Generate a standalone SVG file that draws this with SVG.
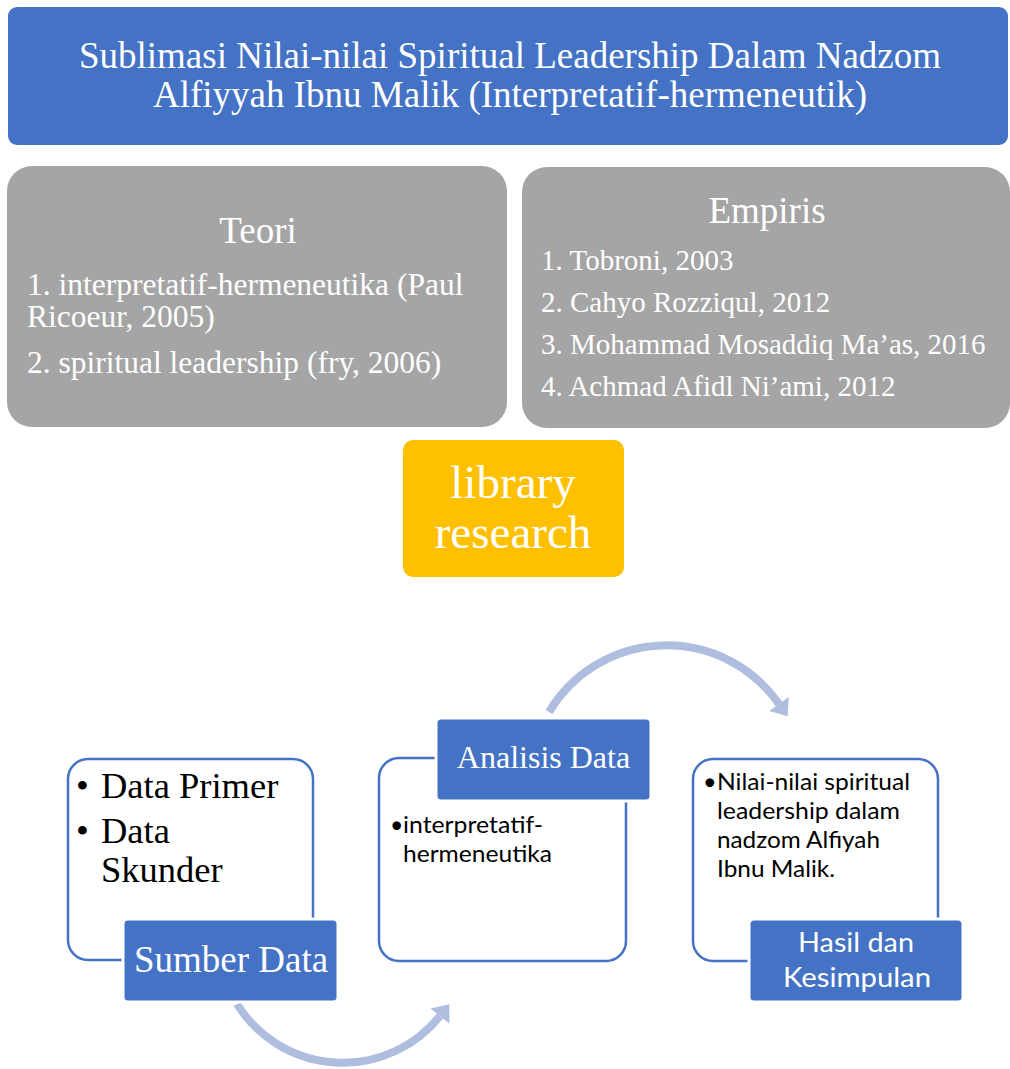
<svg xmlns="http://www.w3.org/2000/svg" width="1010" height="1069" viewBox="0 0 1010 1069">
<style>
.serif{font-family:"Liberation Serif","Times New Roman",serif}
.sans{font-family:Lato,"Open Sans",sans-serif}
.w{fill:#fff}
.k{fill:#000}
.blue{fill:#4472C4}
.grey{fill:#A5A5A5}
.outline{fill:#fff;stroke:#4472C4;stroke-width:2.5}
.tab{fill:#4472C4;stroke:#fff;stroke-width:3}
.arc{fill:none;stroke:#AFBDDF;stroke-width:8}
.head{fill:#AFBDDF}
</style>
<rect width="1010" height="1069" fill="#fff"/>

<g id="connectors">
  <path class="arc" d="M 549 712 A 137 137 0 0 1 779 704"/>
  <polygon class="head" points="788.8,697.1 787.6,716.3 769.2,710.9"/>
  <path class="arc" d="M 237 1004 A 124.5 124.5 0 0 0 440 1016"/>
  <polygon class="head" points="449.4,1023.5 449.3,1004.3 430.6,1008.5"/>
</g>

<g id="title">
  <rect class="blue" x="8" y="7" width="1000" height="138" rx="9"/>
  <text class="serif w" font-size="37" text-anchor="middle" x="510" y="68">Sublimasi Nilai-nilai Spiritual Leadership Dalam Nadzom</text>
  <text class="serif w" font-size="37" text-anchor="middle" x="510" y="107">Alfiyyah Ibnu Malik (Interpretatif-hermeneutik)</text>
</g>

<g id="teori">
  <rect class="grey" x="7" y="166" width="500" height="261" rx="25"/>
  <text class="serif w" font-size="37" text-anchor="middle" x="258" y="243">Teori</text>
  <text class="serif w" font-size="31.5" x="27" y="295">1. interpretatif-hermeneutika (Paul</text>
  <text class="serif w" font-size="31.5" x="27" y="327">Ricoeur, 2005)</text>
  <text class="serif w" font-size="31.5" x="27" y="373">2. spiritual leadership (fry, 2006)</text>
</g>

<g id="empiris">
  <rect class="grey" x="522" y="167" width="488" height="261" rx="25"/>
  <text class="serif w" font-size="37" text-anchor="middle" x="767" y="223">Empiris</text>
  <text class="serif w" font-size="29" x="541" y="270">1. Tobroni, 2003</text>
  <text class="serif w" font-size="29" x="541" y="312">2. Cahyo Rozziqul, 2012</text>
  <text class="serif w" font-size="29" x="541" y="354">3. Mohammad Mosaddiq Ma’as, 2016</text>
  <text class="serif w" font-size="29" x="541" y="396">4. Achmad Afidl Ni’ami, 2012</text>
</g>

<g id="library">
  <rect x="403" y="440" width="221" height="137" rx="10" fill="#FFC000"/>
  <text class="serif w" font-size="47" text-anchor="middle" x="513" y="498">library</text>
  <text class="serif w" font-size="47" text-anchor="middle" x="513" y="548">research</text>
</g>

<g id="sumber-data">
  <rect class="outline" x="68" y="759" width="245" height="201" rx="20"/>
  <text class="serif k" font-size="36.5" x="76" y="798">•</text>
  <text class="serif k" font-size="36.5" x="101" y="798">Data Primer</text>
  <text class="serif k" font-size="36.5" x="76" y="843">•</text>
  <text class="serif k" font-size="36.5" x="101" y="843">Data</text>
  <text class="serif k" font-size="36.5" x="101" y="882">Skunder</text>
  <rect class="tab" x="123" y="919" width="215" height="83" rx="5"/>
  <text class="serif w" font-size="37" text-anchor="middle" x="231" y="972">Sumber Data</text>
</g>

<g id="analisis-data">
  <rect class="outline" x="379" y="758" width="247" height="203" rx="20"/>
  <rect class="tab" x="436" y="718" width="215" height="83" rx="5"/>
  <text class="serif w" font-size="32" text-anchor="middle" x="543.5" y="768">Analisis Data</text>
  <text class="sans k" font-size="23" x="390" y="833">•</text>
  <text class="sans k" font-size="23" x="403" y="833" textLength="140" lengthAdjust="spacingAndGlyphs">interpretatif-</text>
  <text class="sans k" font-size="23" x="403" y="862" textLength="149" lengthAdjust="spacingAndGlyphs">hermeneutika</text>
</g>

<g id="hasil">
  <rect class="outline" x="693" y="759" width="245" height="202" rx="20"/>
  <text class="sans k" font-size="23.5" x="703" y="790">•</text>
  <text class="sans k" font-size="23.5" x="717" y="790" textLength="193" lengthAdjust="spacingAndGlyphs">Nilai-nilai spiritual</text>
  <text class="sans k" font-size="23.5" x="717" y="819" textLength="183" lengthAdjust="spacingAndGlyphs">leadership dalam</text>
  <text class="sans k" font-size="23.5" x="717" y="848" textLength="163" lengthAdjust="spacingAndGlyphs">nadzom Alfiyah</text>
  <text class="sans k" font-size="23.5" x="717" y="877" textLength="118" lengthAdjust="spacingAndGlyphs">Ibnu Malik.</text>
  <rect class="tab" x="749" y="919" width="214" height="83" rx="5"/>
  <text class="sans w" font-size="26" text-anchor="middle" x="856" y="952" textLength="116" lengthAdjust="spacingAndGlyphs">Hasil dan</text>
  <text class="sans w" font-size="26" text-anchor="middle" x="857" y="987" textLength="148" lengthAdjust="spacingAndGlyphs">Kesimpulan</text>
</g>
</svg>
